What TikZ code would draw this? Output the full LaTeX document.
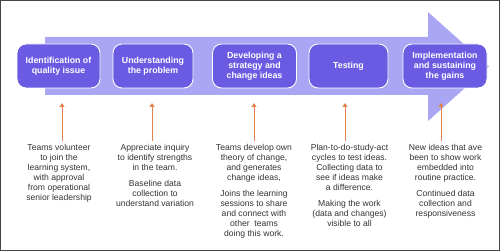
\documentclass[tikz,border=0pt]{standalone}
\usepackage{fontspec}
\setmainfont{Liberation Sans}
\usetikzlibrary{arrows.meta}
\definecolor{shaft}{HTML}{ABA6F3}
\definecolor{boxfill}{HTML}{6B5BE2}
\definecolor{orng}{HTML}{E5834F}
\definecolor{txt}{HTML}{333333}
\begin{document}
\begin{tikzpicture}[x=1pt,y=-1pt,
  stage/.style={draw=white, line width=0.9pt, fill=boxfill, rounded corners=9pt, minimum height=44pt, text=white, font=\fontsize{8.8}{10}\selectfont\bfseries, align=center, inner sep=0pt},
  desc/.style={font=\fontsize{8.6}{10}\selectfont, text=txt, align=center, anchor=north, inner sep=0pt},
  up/.style={draw=orng, line width=1pt, -{Triangle[length=4pt,width=5pt]}}]
\useasboundingbox (0,0) rectangle (500,251);
\fill[shaft] (45,37) -- (428,37) -- (428,12) -- (489,66.5) -- (428,121) -- (428,95) -- (45,95) -- cycle;
\node[stage, minimum width=83pt] (s1) at (58.5,66) {Identification of\\quality issue};
\node[stage, minimum width=80pt] (s2) at (153,66) {Understanding\\the problem};
\node[stage, minimum width=84pt] (s3) at (254.5,66) {Developing a\\strategy and\\change ideas};
\node[stage, minimum width=79pt] (s4) at (348.5,66) {Testing};
\node[stage, minimum width=84pt] (s5) at (445,66) {Implementation\\and sustaining\\the gains};
\node[desc] (d1) at (59,144) {Teams volunteer\\to join the\\learning system,\\with approval\\from operational\\senior leadership};
\node[desc] (d2) at (155,144) {Appreciate inquiry\\to identify strengths\\in the team.\\[6.5pt]Baseline data\\collection to\\understand variation};
\node[desc] (d3) at (254,144) {Teams develop own\\theory of change,\\and generates\\change ideas,\\[6.5pt]Joins the learning\\sessions to share\\and connect with\\other\ \ teams\\doing this work.};
\node[desc] (d4) at (349.5,144) {Plan-to-do-study-act\\cycles to test ideas.\\Collecting data to\\see if ideas make\\a difference.\\[6.5pt]Making the work\\(data and changes)\\visible to all};
\node[desc] (d5) at (445.5,144) {New ideas that ave\\been to show work\\embedded into\\routine practice.\\[6.5pt]Continued data\\collection and\\responsiveness};
\foreach \i/\x in {1/62,2/152,3/254,4/345,5/441}{
  \coordinate (b\i) at (\x,141);
  \coordinate (t\i) at (\x,103);
  \draw[up] (b\i) -- (t\i);
}
\draw[gray!55!black, line width=1.3pt] (0.65,0.65) rectangle (499.35,250.35);
\end{tikzpicture}
\end{document}
